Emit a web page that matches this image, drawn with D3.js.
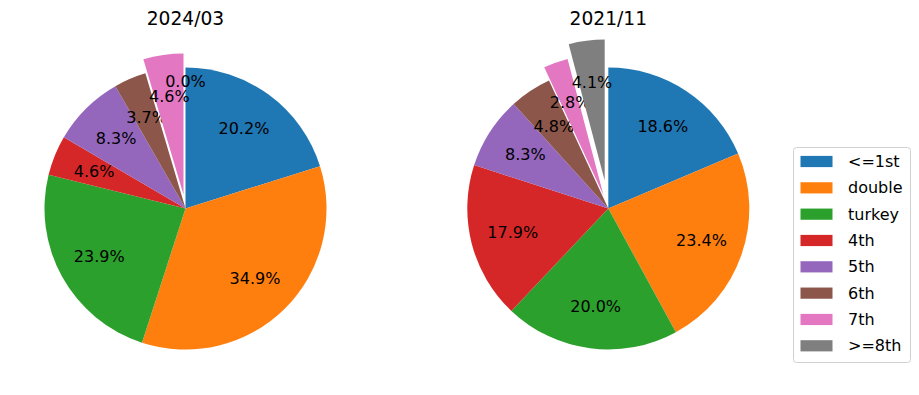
<!DOCTYPE html>
<html>
<head>
<meta charset="utf-8">
<script src="https://cdn.jsdelivr.net/npm/d3@7"></script>
<style>
  body { margin: 0; background: #fff; }
  svg { display: block; font-family: "DejaVu Sans", sans-serif; }
</style>
</head>
<body>
<div class="chart"></div>
<script>
const categories = ["<=1st", "double", "turkey", "4th", "5th", "6th", "7th", ">=8th"];
const colors = ["#1f77b4", "#ff7f0e", "#2ca02c", "#d62728", "#9467bd", "#8c564b", "#e377c2", "#7f7f7f"];
const explode = [0, 0, 0, 0, 0, 0, 0.1, 0.2];
const titles = ["2024/03", "2021/11"];
const values2024 = [20.2, 34.9, 23.9, 4.6, 8.3, 3.7, 4.6, 0.0];
const values2021 = [18.6, 23.4, 20.0, 17.9, 8.3, 4.8, 2.8, 4.1];

let width = 919, height = 395;
let radius = 141;
let svg = d3.select("div.chart").append("svg")
  .attr("width", width)
  .attr("height", height);

let pies = [
  { title: titles[0], values: values2024, cx: 185.5, cy: 208.5 },
  { title: titles[1], values: values2021, cx: 608.3, cy: 208.5 }
];

// clockwise from 12 o'clock, like matplotlib startangle=90, counterclock=False
let pie = d3.pie().sort(null).value(d => d);
let arc = d3.arc().innerRadius(0).outerRadius(radius);

pies.forEach(p => {
  let g = svg.append("g").attr("transform", "translate(" + p.cx + "," + p.cy + ")");
  let arcs = pie(p.values);

  let slices = g.selectAll("g.slice")
    .data(arcs)
    .enter()
    .append("g")
    .attr("class", "slice")
    .attr("transform", function (d, i) {
      let mid = (d.startAngle + d.endAngle) / 2;
      let off = explode[i] * radius;
      return "translate(" + (Math.sin(mid) * off) + "," + (-Math.cos(mid) * off) + ")";
    });

  slices.append("path")
    .attr("d", arc)
    .attr("fill", (d, i) => colors[i]);

  slices.append("text")
    .attr("x", d => Math.sin((d.startAngle + d.endAngle) / 2) * radius * 0.7)
    .attr("y", d => -Math.cos((d.startAngle + d.endAngle) / 2) * radius * 0.7)
    .attr("text-anchor", "middle")
    .attr("dominant-baseline", "central")
    .attr("font-size", "16px")
    .attr("fill", "#000")
    .text(d => d.value.toFixed(1) + "%");

  svg.append("text")
    .attr("x", p.cx)
    .attr("y", 25)
    .attr("text-anchor", "middle")
    .attr("font-size", "18.67px")
    .text(p.title);
});

// legend
let legend = svg.append("g").attr("transform", "translate(793,147)");
legend.append("rect")
  .attr("x", 0.5).attr("y", 0.5)
  .attr("width", 117).attr("height", 215)
  .attr("rx", 3)
  .attr("fill", "#fff")
  .attr("fill-opacity", 0.8)
  .attr("stroke", "#d0d0d0");

let rowY = d3.scaleLinear().domain([0, categories.length - 1]).range([14.5, 198.8]);
let items = legend.selectAll("g.item")
  .data(categories)
  .enter()
  .append("g")
  .attr("class", "item")
  .attr("transform", (d, i) => "translate(0," + rowY(i) + ")");

items.append("rect")
  .attr("x", 7.5).attr("y", -5.6)
  .attr("width", 32).attr("height", 11.2)
  .attr("fill", (d, i) => colors[i]);

items.append("text")
  .attr("x", 55)
  .attr("y", 0)
  .attr("dominant-baseline", "central")
  .attr("font-size", "16px")
  .text(d => d);
</script>
</body>
</html>
